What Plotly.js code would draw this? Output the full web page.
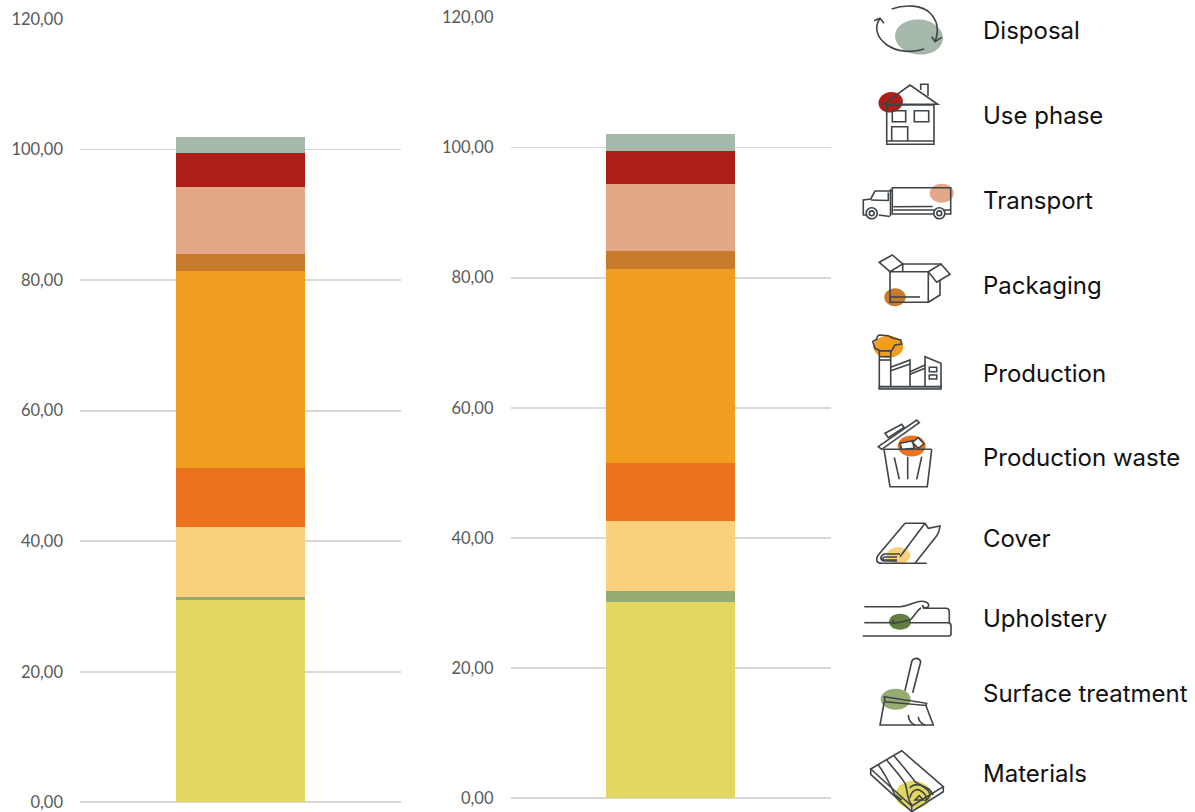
<!DOCTYPE html>
<html>
<head>
<meta charset="utf-8">
<script src="https://cdn.plot.ly/plotly-3.0.1.min.js"></script>
<style>html,body{margin:0;padding:0;background:#fff}#chart{width:1195px;height:812px}</style>
</head>
<body>
<div id="chart"></div>
<script>
// ---- data (top of stack last) ----
const categories = ['Materials','Surface treatment','Upholstery','Cover','Production waste','Production','Packaging','Transport','Use phase','Disposal'];
const productA   = [31.0, 0.45, 0, 10.7, 9.05, 30.2, 2.6, 10.3, 5.2, 2.4];
const productB   = [30.15, 1.7, 0, 10.75, 8.85, 29.9, 2.7, 10.35, 5.05, 2.7];
const colours    = ['#e1d761','#94ab72','#617f3f','#fbd07c','#ec731e','#f19d20','#c97b2d','#e3a887','#ad1e17','#a6b8aa'];
const tickValues = [0,20,40,60,80,100,120];
const legendLabels = ['Disposal','Use phase','Transport','Packaging','Production','Production waste','Cover','Upholstery','Surface treatment','Materials'];
const legendY      = [30,115,201,286,373,457,538,618,693,773];

// ---- page geometry helpers ----
const W = 1195, H = 812;
const fx = x => x / W, fy = y => 1 - y / H;
const toPaper = d => { let i = 0; return d.replace(/-?\d+(\.\d+)?/g, n => (i++ % 2 === 0 ? fx(+n) : fy(+n)).toFixed(5)); };
const INK = '#3f4448';
const stroke = (d, fill) => ({type:'path', xref:'paper', yref:'paper', path: toPaper(d), line:{color:INK, width:1.6}, fillcolor: fill || 'rgba(0,0,0,0)'});
const ellD = (cx,cy,rx,ry,rot=0) => {
  const k = 0.5523, c = Math.cos(rot), s = Math.sin(rot);
  const p = (u,v) => `${(cx+u*rx*c-v*ry*s).toFixed(2)} ${(cy+u*rx*s+v*ry*c).toFixed(2)}`;
  return `M ${p(1,0)} C ${p(1,k)} ${p(k,1)} ${p(0,1)} C ${p(-k,1)} ${p(-1,k)} ${p(-1,0)} C ${p(-1,-k)} ${p(-k,-1)} ${p(0,-1)} C ${p(k,-1)} ${p(1,-k)} ${p(1,0)} Z`;
};
const blob = (colour,cx,cy,rx,ry,rot) => ({type:'path', xref:'paper', yref:'paper', path: toPaper(ellD(cx,cy,rx,ry,rot)), line:{width:0}, fillcolor: colour});

// ---- legend pictograms (decoration, not data) ----
const icons = [
  // disposal
  blob('#a6b8aa',919,37,24,17.5,0.1),
  stroke('M 891.7 9 C 905 4 922 5 930 13 C 938 21 939 31 935 41.7'),
  stroke('M 931.7 36.7 L 935 41.7 L 941.7 37.3'),
  stroke('M 924 49 C 912 53 897 52 887 45 C 876 37 874 27 880 18.3'),
  stroke('M 874 20.7 L 880 18.3 L 884 23.3'),
  // use phase
  blob('#ad1e17',890.7,102.3,12.3,10.2,-0.2),
  stroke('M 883.3 104.3 L 910 85 L 937.7 104.3 Z'),
  stroke('M 886.7 105 L 934 105 L 934 144.3 L 886.7 144.3 Z'),
  stroke('M 886.7 141 L 934 141'),
  stroke('M 892.3 110.7 L 905.7 110.7 L 905.7 121.7 L 892.3 121.7 Z'),
  stroke('M 914.3 110.7 L 928.7 110.7 L 928.7 121.7 L 914.3 121.7 Z'),
  stroke('M 891.7 141 L 891.7 126.7 L 907.7 126.7 L 907.7 141'),
  stroke('M 920.7 90 L 920.7 84.3 L 928 84.3 L 928 95.7'),
  // transport
  blob('#e3a887',941.7,193.3,12,9.5,0),
  stroke('M 892.3 187.7 L 950.7 187.7 L 950.7 214 L 892.3 214 Z'),
  stroke('M 893.3 206.7 L 932.7 206.5'),
  stroke('M 893.3 210 L 950 210'),
  stroke('M 890.5 189 L 890.5 216'),
  stroke('M 892.3 191 L 875 191 L 870.7 199 L 863.3 200 L 863.3 215 L 866 215'),
  stroke('M 888.3 192.5 L 888.3 200.5 L 871 200'),
  stroke('M 878.7 215 L 890 216.5'),
  stroke(ellD(871.7,213.3,5.5,5.5),'#ffffff'),
  stroke(ellD(871.7,213.3,2.4,2.4)),
  stroke(ellD(939.3,213.3,5.5,5.5),'#ffffff'),
  stroke(ellD(939.3,213.3,2.4,2.4)),
  // packaging
  blob('#c97b2d',895,297.3,10.7,9,0),
  stroke('M 879.3 262.3 L 892.3 255 L 902.7 264 L 890 271.7 Z'),
  stroke('M 902.7 264 L 941 264'),
  stroke('M 902.7 264 L 902.7 271.7'),
  stroke('M 890 271.7 L 928.3 271.7 L 928.3 302.3 L 890 302.3 Z'),
  stroke('M 928.3 271.7 L 941 264 L 950 274.3 L 936.7 282.3 Z'),
  stroke('M 940 280 L 940 295 L 928.3 302.3'),
  stroke('M 890 297 L 920 297'),
  // production
  blob('#f19d20',888.3,346.7,15,11,0),
  stroke('M 872.7 341.7 L 876.7 339.3 C 877 336 878 335 880 335 L 888.3 335.7 L 893.3 338.3 L 900.7 340 L 901.7 344 L 895 345 L 891.7 350.7 L 880 350.7 L 875 348.3 Z'),
  stroke('M 879.3 350.7 L 890.7 350.7 L 890.7 388.3 L 879.3 388.3 Z'),
  stroke('M 879.3 356.7 L 890.7 356.7'),
  stroke('M 879.3 360 L 890.7 360'),
  stroke('M 890.7 367.3 L 910 360 L 910 388.3'),
  stroke('M 890.7 370.7 L 910 364'),
  stroke('M 910 371.7 L 925 365 L 925 388.3'),
  stroke('M 910 374.3 L 925 368.3'),
  stroke('M 925 365 L 925 356.7 L 941 363.3 L 941 388.3'),
  stroke('M 929.3 367.3 L 936.7 367.3 L 936.7 371.7 L 929.3 371.7 Z'),
  stroke('M 929.3 375 L 936.7 375 L 936.7 379 L 929.3 379 Z'),
  stroke('M 879.3 386.5 L 941 386.5 L 941 389 L 879.3 389 Z','#9a9da0'),
  // production waste
  blob('#ec731e',911.7,446,14,10.5,0),
  stroke('M 883.3 449.3 L 931.7 449.3'),
  stroke('M 884 449.3 L 890 486.7 L 927.3 486.7 L 931.7 449.3'),
  stroke('M 894.3 457.3 L 899.3 479.3'),
  stroke('M 907.7 456.7 L 907.7 479.3'),
  stroke('M 921.7 456.7 L 916.7 479.3'),
  stroke('M 878.3 446.7 L 916.7 420 L 919.3 422.7 L 881.7 449.3 Z'),
  stroke('M 885 433.3 L 901.7 424.3 L 904 427.3 L 888.3 437.7 Z'),
  stroke('M 900 443.3 L 912.7 440.7 L 914 448.3 L 901.7 449.3 Z','#ffffff'),
  stroke('M 912.3 442.3 L 918.3 437.7 L 924 444 L 918.3 448.3 Z','#ffffff'),
  // cover
  blob('#fbd07c',898.3,555.7,12,8.5,0),
  stroke('M 905 523.3 L 878.3 555 C 875 560 877 563.3 882 563.3 L 926.7 563.3'),
  stroke('M 905 523.3 L 925 523.3 L 928.3 528.3 L 940 526 C 939.5 530 938.5 533 937.3 535 L 915 563.3'),
  stroke('M 925 523.3 L 900 556.7'),
  stroke('M 900 554 L 885 554 C 880 555 879.5 560 884 561 L 897 561'),
  stroke('M 897 557 L 885 557 C 882 557.5 882 560 885 560 L 897 560'),
  // upholstery
  blob('#617f3f',900,621.7,11,8,0),
  stroke('M 864.3 606.7 L 900 606.7 C 908 606.5 912 603 917 602 C 924 600 931 603 928 607 C 925 609 922 607 923 605'),
  stroke('M 923 608.3 L 946 608.3 C 948 608.3 949.3 610 949.3 612 L 949.3 622.7'),
  stroke('M 864.3 622.7 L 893.3 622.7'),
  stroke('M 893.3 620 L 893.3 623.5 L 910 620 C 915 616 917 610 921 608'),
  stroke('M 909 622.7 L 948 622.7 C 950 622.7 951 624 951 626 L 951 634 C 951 635.5 950 636 949 636 L 862.7 636'),
  // surface treatment
  blob('#94ab72',895.7,699.3,15,10.5,0),
  stroke('M 905 690.7 L 911.7 661.7 C 912.7 658 919 656.5 920.7 661.7 L 912.7 692.7'),
  stroke('M 884.3 696.7 L 926.7 703.3 L 926 705.5 L 885 701.7 Z'),
  stroke('M 884.3 701.7 L 880 725 L 933.3 725 L 926 705.7'),
  stroke('M 908.3 715 C 908.5 719 910 723 915 725'),
  stroke('M 918.3 716.7 C 918.5 720 920 723 925 725'),
  // materials
  blob('#e1d761',913.3,795,18,14,0),
  stroke('M 870.7 769 L 901.7 750.7 L 943.3 786.7 L 911.7 806 Z'),
  stroke('M 870.7 769 L 870.7 774.3 L 911.7 811.7 L 943.3 791.7 L 943.3 786.7'),
  stroke('M 911.7 806 L 911.7 811.7'),
  stroke('M 878.3 765 C 884 772 889 782 895 795 L 901.7 800'),
  stroke('M 886.7 760 C 892 767 901 776 905 783.3 C 908 790 906 797 911.7 805'),
  stroke('M 893.3 755 C 899 762 908 772 915 781.7 C 920 786 927 787 930 790 L 933.3 795'),
  stroke('M 910 788.3 C 911 785 919 783 923.3 786.7 C 927 789 930 792 930 795 C 929 798 927 800 925 801'),
  stroke('M 910 798 C 911 790 918 788 921 791 C 925 793 927 797 926 800'),
  stroke('M 915 800 L 919.3 795.7 L 923.3 800 Z')
];

// ---- axes ----
const yAxis = (top, bottom, anchor) => ({
  domain:[fy(bottom), fy(top)], range:[0,120], tickvals:tickValues, tickformat:'.2f', anchor,
  showgrid:true, gridcolor:'#d9d9d9', gridwidth:1.7, zeroline:true, zerolinecolor:'#d9d9d9', zerolinewidth:1.7,
  showline:false, ticks:'', ticklabelstandoff:16, ticklabeloverflow:'allow',
  tickfont:{family:'Lato, Carlito, sans-serif', size:16.5, color:'#595959'}
});
const xAxis = (l, r, anchor) => ({
  domain:[fx(l), fx(r)], type:'category', range:[-0.5,0.5], anchor,
  showticklabels:false, showgrid:false, zeroline:false, showline:false, ticks:''
});

const makeTraces = (values, xa, ya, label) => categories.map((name,i) => ({
  type:'bar', name, x:[label], y:[values[i]], xaxis:xa, yaxis:ya,
  marker:{color:colours[i], line:{width:0}}, showlegend:false, hoverinfo:'name+y'
}));

const traces = [...makeTraces(productA,'x','y','A'), ...makeTraces(productB,'x2','y2','B')];

const layout = {
  width:W, height:H, margin:{l:0,r:0,t:0,b:0}, paper_bgcolor:'#fff', plot_bgcolor:'rgba(0,0,0,0)',
  separators:',.', barmode:'stack', bargap:0.597, showlegend:false,
  xaxis: xAxis(80,400.5,'y'),
  yaxis: yAxis(19,802.3,'x'),
  xaxis2: xAxis(510.5,830.5,'y2'),
  yaxis2: yAxis(17.5,798,'x2'),
  shapes: icons,
  annotations: legendLabels.map((t,i) => ({
    xref:'paper', yref:'paper', x:fx(981), y:fy(legendY[i]), xanchor:'left', yanchor:'middle',
    text:t, showarrow:false, font:{family:'Inter, Roboto, sans-serif', size:24, weight:400, color:'#111111'}
  }))
};
Plotly.newPlot('chart', traces, layout, {displayModeBar:false, staticPlot:true});
</script>
</body>
</html>
